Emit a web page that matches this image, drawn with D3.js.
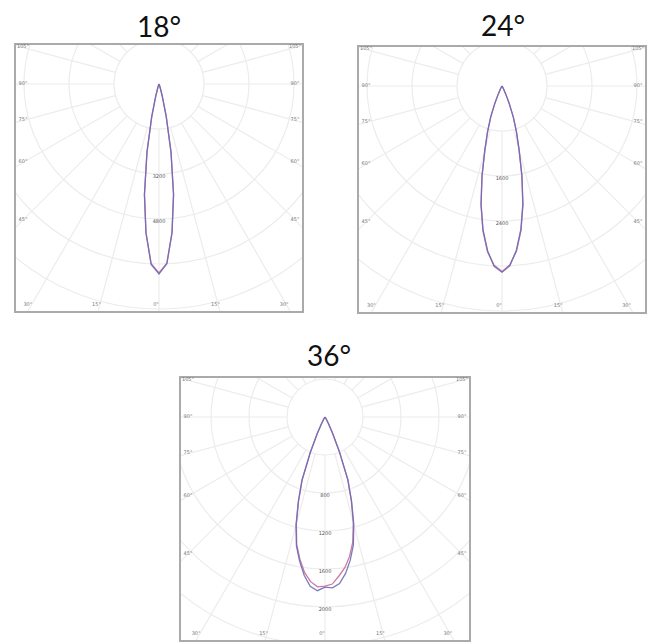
<!DOCTYPE html>
<html>
<head>
<meta charset="utf-8">
<script src="https://cdn.jsdelivr.net/npm/d3@7"></script>
<style>
  body { margin: 0; background: #fff; }
  svg { display: block; }
</style>
</head>
<body>
<svg id="canvas"></svg>
<script>
// Titles (beam angles)
const titles = ["18°", "24°", "36°"];

// Gamma angles (deg from nadir) the intensities are given at
const gammaAngles = [0, 2.5, 5, 7.5, 10, 12.5, 15, 17.5, 20, 22.5, 25, 27.5, 30, 35, 40, 90];

// Candela values
// blue curve = C0 (right) / C180 (left), red curve = C90 (right) / C270 (left)
const c0_18   = [6750, 6400, 5300, 3950, 2450, 1200, 450, 150, 60, 30, 15, 10, 5, 0, 0, 0];
const c180_18 = [6750, 6420, 5320, 3960, 2460, 1210, 450, 150, 60, 30, 15, 10, 5, 0, 0, 0];
const c90_18  = [6720, 6380, 5320, 3980, 2470, 1180, 440, 150, 60, 30, 15, 10, 5, 0, 0, 0];
const c270_18 = [6720, 6390, 5300, 3970, 2460, 1190, 440, 150, 60, 30, 15, 10, 5, 0, 0, 0];

const c0_24   = [3310, 3200, 2930, 2570, 2130, 1630, 1175, 860, 590, 330, 150, 60, 25, 8, 0, 0];
const c180_24 = [3310, 3210, 2940, 2580, 2140, 1640, 1180, 860, 590, 330, 150, 60, 25, 8, 0, 0];
const c90_24  = [3300, 3180, 2950, 2590, 2150, 1640, 1170, 850, 580, 325, 150, 60, 25, 8, 0, 0];
const c270_24 = [3300, 3190, 2960, 2600, 2150, 1650, 1170, 850, 580, 325, 150, 60, 25, 8, 0, 0];

const c0_36   = [1790, 1800, 1760, 1660, 1530, 1380, 1170, 930, 705, 400, 190, 80, 30, 10, 0, 0];
const c180_36 = [1790, 1830, 1790, 1680, 1540, 1390, 1180, 935, 710, 405, 195, 80, 30, 10, 0, 0];
const c90_36  = [1780, 1760, 1680, 1600, 1490, 1350, 1150, 920, 700, 395, 185, 75, 28, 10, 0, 0];
const c270_36 = [1780, 1790, 1740, 1650, 1520, 1375, 1165, 925, 700, 400, 190, 78, 30, 10, 0, 0];

// Ring step (cd per circle) and ring labels
const ringSteps = [1600, 800, 400];
const ringLabels18 = ["3200", "4800"];
const ringLabels24 = ["1600", "2400"];
const ringLabels36 = ["800", "1200", "1600", "2000"];

// Angle labels on the frame
const sideAngleLabels = [105, 90, 75, 60, 45];
const bottomAngleLabels = [-30, -15, 0, 15, 30];

const W = 650, H = 643;
const svg = d3.select("#canvas").attr("width", W).attr("height", H);

// layout of each panel (box and pixel size of one ring)
const panels = [
  { title: titles[0], box: { x: 15, y: 44, w: 288, h: 268 }, cyOff: 40, ringPx: 45, step: ringSteps[0],
    labels: ringLabels18, blue: [c180_18, c0_18], red: [c270_18, c90_18], titleX: 159, titleY: 37 },
  { title: titles[1], box: { x: 358, y: 46, w: 288, h: 267 }, cyOff: 40, ringPx: 45, step: ringSteps[1],
    labels: ringLabels24, blue: [c180_24, c0_24], red: [c270_24, c90_24], titleX: 503, titleY: 36 },
  { title: titles[2], box: { x: 180, y: 377, w: 290, h: 264 }, cyOff: 40, ringPx: 38, step: ringSteps[2],
    labels: ringLabels36, blue: [c180_36, c0_36], red: [c270_36, c90_36], titleX: 329, titleY: 366 }
];

const rad = Math.PI / 180;

panels.forEach((p, i) => {
  const b = p.box;
  const cx = b.x + b.w / 2, cy = b.y + p.cyOff;
  const nRings = 8;
  const r = d3.scaleLinear().domain([0, p.step * nRings]).range([0, p.ringPx * nRings]);

  // title
  svg.append("text")
    .attr("x", p.titleX).attr("y", p.titleY)
    .attr("text-anchor", "middle")
    .style("font-family", "Lato, 'Open Sans', sans-serif")
    .style("font-size", "28px")
    .attr("fill", "#111")
    .text(p.title);

  const clipId = "clip" + i;
  svg.append("clipPath").attr("id", clipId)
    .append("rect").attr("x", b.x).attr("y", b.y).attr("width", b.w).attr("height", b.h);

  const g = svg.append("g").attr("clip-path", `url(#${clipId})`);
  const grid = g.append("g").attr("transform", `translate(${cx},${cy})`);

  // rings
  grid.selectAll("circle")
    .data(d3.range(1, nRings + 1))
    .enter().append("circle")
    .attr("r", d => r(d * p.step))
    .attr("fill", "none")
    .attr("stroke", "#ececec")
    .attr("stroke-width", 1.2);

  // radial lines every 15 deg, starting at the inner ring
  grid.selectAll("line")
    .data(d3.range(0, 360, 15))
    .enter().append("line")
    .attr("x1", d => Math.sin(d * rad) * r(p.step))
    .attr("y1", d => Math.cos(d * rad) * r(p.step))
    .attr("x2", d => Math.sin(d * rad) * 400)
    .attr("y2", d => Math.cos(d * rad) * 400)
    .attr("stroke", "#ececec")
    .attr("stroke-width", 1.2);

  // curves
  const line = d3.lineRadial()
    .angle(d => Math.PI - d.a * rad)
    .radius(d => r(d.v))
    .curve(d3.curveLinear);

  const toPts = (left, right) => {
    const L = gammaAngles.map((a, k) => ({ a: -a, v: left[k] })).reverse();
    const R = gammaAngles.map((a, k) => ({ a: a, v: right[k] }));
    return L.concat(R);
  };

  grid.append("path")
    .attr("d", line(toPts(p.red[0], p.red[1])))
    .attr("fill", "none")
    .attr("stroke", "#cf7a9c")
    .attr("stroke-width", 1.3);

  grid.append("path")
    .attr("d", line(toPts(p.blue[0], p.blue[1])))
    .attr("fill", "none")
    .attr("stroke", "#6a6cb8")
    .attr("stroke-width", 1.3)
    .attr("opacity", 0.9);

  // ring labels (rings 2..)
  grid.selectAll("text.ring")
    .data(p.labels)
    .enter().append("text")
    .attr("class", "ring")
    .attr("x", 0)
    .attr("y", (d, k) => r((k + 2) * p.step) + 4)
    .attr("text-anchor", "middle")
    .style("font-family", "'DejaVu Sans', sans-serif")
    .style("font-size", "5px")
    .attr("fill", "#555")
    .text(d => d);

  // frame
  svg.append("rect")
    .attr("x", b.x).attr("y", b.y).attr("width", b.w).attr("height", b.h)
    .attr("fill", "none")
    .attr("stroke", "#aaaaaa")
    .attr("stroke-width", 2);

  // angle labels on sides
  const inset = 8;
  const lab = svg.append("g")
    .style("font-family", "'DejaVu Sans', sans-serif")
    .style("font-size", "5px")
    .attr("fill", "#777");

  [-1, 1].forEach(side => {
    const xEdge = side < 0 ? b.x + inset : b.x + b.w - inset;
    sideAngleLabels.forEach(a => {
      const dx = Math.abs(xEdge - cx);
      const y = cy + dx * Math.cos(a * rad) / Math.sin(a * rad);
      lab.append("text")
        .attr("x", xEdge).attr("y", y)
        .attr("text-anchor", "middle")
        .attr("dy", "0.1em")
        .text(a + "°");
    });
  });

  const yEdge = b.y + b.h - 6;
  bottomAngleLabels.forEach(a => {
    const x = cx + (yEdge - cy) * Math.tan(a * rad) - 3;
    lab.append("text")
      .attr("x", x).attr("y", yEdge)
      .attr("text-anchor", "middle")
      .text(Math.abs(a) + "°");
  });
});
</script>
</body>
</html>
